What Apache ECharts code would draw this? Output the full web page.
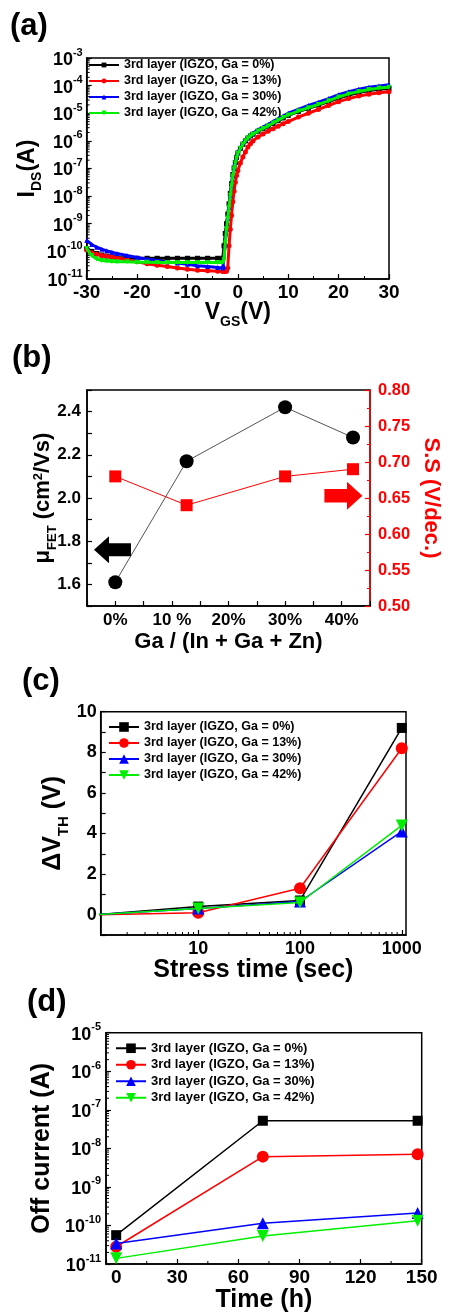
<!DOCTYPE html>
<html><head><meta charset="utf-8">
<script src="https://cdn.jsdelivr.net/npm/echarts@6/dist/echarts.min.js"></script>
<style>html,body{margin:0;padding:0;background:#fff}#c{width:450px;height:1314px}</style>
</head><body><div id="c"></div>
<script>
const FONT = 'Liberation Sans, Arial, Helvetica, sans-serif';

// ---------- (a) transfer curves: V_GS (V) and log10(I_DS / A) ----------
const vgs = [-30,-29,-28,-27,-26,-25,-24,-22,-20,-18,-16,-14,-12,-10,-8,-6,-4,-3,-2.75,-2.5,-2.25,-2,-1.75,-1.5,-1.25,-1,-0.75,-0.5,-0.25,0,0.5,1,1.5,2,2.5,3,4,5,6,7,8,9,10,12,14,16,18,20,22,24,26,28,30];
const logIds_Ga0 = [-9.9,-10.0,-10.08,-10.13,-10.17,-10.2,-10.22,-10.24,-10.25,-10.25,-10.25,-10.25,-10.25,-10.25,-10.25,-10.25,-10.25,-10.25,-9.8,-9.35,-9.0,-8.65,-8.28,-7.9,-7.55,-7.22,-6.98,-6.78,-6.6,-6.44,-6.27,-6.12,-6.0,-5.9,-5.82,-5.76,-5.65,-5.56,-5.47,-5.37,-5.27,-5.17,-5.08,-4.94,-4.82,-4.7,-4.58,-4.45,-4.34,-4.25,-4.18,-4.13,-4.1];
const logIds_Ga13 = [-9.95,-10.05,-10.1,-10.15,-10.18,-10.2,-10.23,-10.3,-10.38,-10.45,-10.5,-10.55,-10.6,-10.65,-10.68,-10.7,-10.72,-10.73,-10.73,-10.73,-10.72,-10.6,-9.8,-9.2,-8.7,-8.2,-7.82,-7.5,-7.25,-7.08,-6.8,-6.58,-6.4,-6.22,-6.1,-6.0,-5.86,-5.75,-5.65,-5.56,-5.47,-5.38,-5.3,-5.14,-5.0,-4.86,-4.72,-4.58,-4.47,-4.38,-4.31,-4.26,-4.22];
const logIds_Ga30 = [-9.6,-9.75,-9.85,-9.92,-9.98,-10.03,-10.08,-10.15,-10.22,-10.28,-10.33,-10.38,-10.42,-10.47,-10.52,-10.55,-10.58,-10.6,-10.55,-9.75,-9.2,-8.8,-8.4,-7.98,-7.62,-7.27,-7.0,-6.78,-6.6,-6.43,-6.25,-6.09,-5.97,-5.87,-5.79,-5.72,-5.6,-5.5,-5.41,-5.3,-5.2,-5.1,-5.0,-4.86,-4.72,-4.6,-4.47,-4.33,-4.22,-4.13,-4.06,-4.01,-3.97];
const logIds_Ga42 = [-9.9,-10.15,-10.28,-10.33,-10.35,-10.37,-10.38,-10.38,-10.39,-10.39,-10.4,-10.4,-10.4,-10.4,-10.4,-10.4,-10.4,-10.4,-10.3,-9.7,-9.2,-8.8,-8.4,-7.98,-7.62,-7.28,-7.02,-6.8,-6.62,-6.46,-6.28,-6.12,-6.0,-5.9,-5.82,-5.76,-5.64,-5.55,-5.46,-5.35,-5.25,-5.15,-5.06,-4.92,-4.8,-4.68,-4.55,-4.41,-4.3,-4.21,-4.14,-4.09,-4.06];

// ---------- (b) mobility and subthreshold swing ----------
const gaRatio = [0, 12.6, 30, 42];
const mobility = [1.61, 2.17, 2.42, 2.28];
const subSwing = [0.68, 0.64, 0.68, 0.69];

// ---------- (c) threshold voltage shift ----------
const stressTime = [1, 10, 100, 1000];
const dVth_Ga0 = [0, 0.4, 0.7, 9.2];
const dVth_Ga13 = [0, 0.1, 1.3, 8.2];
const dVth_Ga30 = [0, 0.3, 0.65, 4.1];
const dVth_Ga42 = [0, 0.3, 0.6, 4.4];

// ---------- (d) off current ----------
const timeH = [0, 72, 148];
const ioff_Ga0 = [5.6e-11, 5.2e-8, 5.2e-8];
const ioff_Ga13 = [2.8e-11, 6.1e-9, 7.0e-9];
const ioff_Ga30 = [3.4e-11, 1.14e-10, 2.1e-10];
const ioff_Ga42 = [1.4e-11, 5.3e-11, 1.33e-10];

const seriesNames = ['3rd layer (IGZO, Ga = 0%)', '3rd layer (IGZO, Ga = 13%)', '3rd layer (IGZO, Ga = 30%)', '3rd layer (IGZO, Ga = 42%)'];
const colors = ['#000000', '#ff0000', '#0000ff', '#00ee00'];
const symbols = ['rect', 'circle', 'triangle', 'path://M0,0L10,0L5,8.66Z'];

// minor tick helpers (positions of minor ticks only)
const logMult = [2,3,4,5,6,7,8,9];
function logMinor(e0, e1) { const out = []; for (let e = e0; e < e1; e++) logMult.forEach(m => out.push(m * Math.pow(10, e))); return out; }

const bold = {fontFamily: FONT, fontWeight: 'bold', color: '#000'};
const supRich = {
  b: {fontFamily: FONT, fontWeight: 'bold', fontSize: 18, lineHeight: 22, verticalAlign: 'bottom', color: '#000'},
  s: {fontFamily: FONT, fontWeight: 'bold', fontSize: 11, lineHeight: 11, verticalAlign: 'top', color: '#000'}
};
function expLabel(v) {
  const l = Math.log10(v), e = Math.round(l);
  if (Math.abs(l - e) > 1e-6) return '';
  return '{b|10}{s|' + e + '}';
}
function nameRich(size, color) {
  return {
    n: {fontFamily: FONT, fontWeight: 'bold', fontSize: size, lineHeight: size + 4, verticalAlign: 'top', color: color},
    s: {fontFamily: FONT, fontWeight: 'bold', fontSize: Math.round(size * 0.6), lineHeight: 10, verticalAlign: 'top', padding: [Math.round(size * 0.62), 0, 0, 0], color: color},
    p: {fontFamily: FONT, fontWeight: 'bold', fontSize: Math.round(size * 0.6), lineHeight: 10, verticalAlign: 'top', padding: [0, 0, 0, 0], color: color}
  };
}
const axLine = (c) => ({show: true, onZero: false, lineStyle: {color: c || '#000', width: 1.5}});
const axTick = (c) => ({show: true, inside: true, length: 5, lineStyle: {color: c || '#000', width: 1.2}});

function minorSeries(xIdx, yIdx, dir, anchor, values, len) {
  return {
    type: 'custom', xAxisIndex: xIdx, yAxisIndex: yIdx, silent: true, clip: false, z: 5,
    data: values.map(v => dir === 'y' ? [anchor, v] : [v, anchor]),
    renderItem: function (params, api) {
      const p = api.coord([api.value(0), api.value(1)]);
      const shape = dir === 'y' ? {x1: p[0], y1: p[1], x2: p[0] + len, y2: p[1]} : {x1: p[0], y1: p[1], x2: p[0], y2: p[1] - len};
      return {type: 'line', shape: shape, style: {stroke: '#000', lineWidth: 1}};
    }
  };
}

const series = [];
// (a)
[logIds_Ga0, logIds_Ga13, logIds_Ga30, logIds_Ga42].forEach((arr, i) => {
  series.push({
    type: 'line', name: seriesNames[i], xAxisIndex: 0, yAxisIndex: 0,
    data: vgs.map((v, k) => [v, Math.pow(10, arr[k])]),
    symbol: symbols[i], symbolSize: 5, showAllSymbol: true,
    itemStyle: {color: colors[i]}, lineStyle: {color: colors[i], width: 3}, z: 3 + i
  });
});
series.push(minorSeries(0, 0, 'y', -30, logMinor(-11, -3), 3));
// (b)
series.push({
  type: 'line', name: 'mobility', xAxisIndex: 1, yAxisIndex: 1,
  data: gaRatio.map((g, k) => [g, mobility[k]]),
  symbol: 'circle', symbolSize: 14, itemStyle: {color: '#000'}, lineStyle: {color: '#555', width: 1}, z: 4,
  markPoint: {
    silent: true, label: {show: false},
    data: [{coord: [-0.5, 1.76], symbol: 'path://M0,13.5L15,0L15,7L37,7L37,20L15,20L15,27Z', symbolSize: [37, 27], symbolKeepAspect: false, itemStyle: {color: '#000'}}]
  }
});
series.push({
  type: 'line', name: 'ss', xAxisIndex: 1, yAxisIndex: 2,
  data: gaRatio.map((g, k) => [g, subSwing[k]]),
  symbol: 'rect', symbolSize: 12, itemStyle: {color: '#ff0000'}, lineStyle: {color: '#ff0000', width: 1}, z: 4,
  markPoint: {
    silent: true, label: {show: false},
    data: [{coord: [40.3, 0.653], symbol: 'path://M37,13.5L22,0L22,7L0,7L0,20L22,20L22,27Z', symbolSize: [38, 28], symbolKeepAspect: false, itemStyle: {color: '#ff0000'}}]
  }
});
// (c)
const symSizeC = [10, 12, 12, 12];
[dVth_Ga0, dVth_Ga13, dVth_Ga30, dVth_Ga42].forEach((arr, i) => {
  series.push({
    type: 'line', name: seriesNames[i] + ' ', xAxisIndex: 2, yAxisIndex: 3,
    data: stressTime.map((t, k) => [t, arr[k]]),
    symbol: symbols[i], symbolSize: symSizeC[i], clip: true,
    itemStyle: {color: colors[i]}, lineStyle: {color: colors[i], width: 1.5}, z: 3 + i
  });
});
series.push(minorSeries(2, 3, 'x', -1, logMinor(0, 3).filter(v => v > 1.1), 3));
// (d)
[ioff_Ga0, ioff_Ga13, ioff_Ga30, ioff_Ga42].forEach((arr, i) => {
  series.push({
    type: 'line', name: seriesNames[i] + '  ', xAxisIndex: 3, yAxisIndex: 4,
    data: timeH.map((t, k) => [t, arr[k]]),
    symbol: symbols[i], symbolSize: symSizeC[i],
    itemStyle: {color: colors[i]}, lineStyle: {color: colors[i], width: 1.5}, z: 3 + i
  });
});
series.push(minorSeries(3, 4, 'y', -5, logMinor(-11, -5), 3));
series.push(minorSeries(3, 4, 'x', 1e-11, [15, 45, 75, 105, 135], 3));

function legendFor(suffix, left, top, itemH, lh, fs) {
  return {
    orient: 'vertical', left: left, top: top, padding: 0, itemGap: 0,
    itemWidth: 30, itemHeight: itemH, selectedMode: false,
    textStyle: {fontFamily: FONT, fontWeight: 'bold', fontSize: fs, lineHeight: lh, color: '#000'},
    data: seriesNames.map(n => n + suffix)
  };
}

const option = {
  animation: false,
  backgroundColor: '#fff',
  graphic: [
    {type: 'text', style: {text: '(a)', x: 10, y: 26, verticalAlign: 'middle', font: 'bold 31px ' + FONT, fill: '#000'}},
    {type: 'text', style: {text: '(b)', x: 12, y: 358, verticalAlign: 'middle', font: 'bold 31px ' + FONT, fill: '#000'}},
    {type: 'text', style: {text: '(c)', x: 22, y: 681, verticalAlign: 'middle', font: 'bold 31px ' + FONT, fill: '#000'}},
    {type: 'text', style: {text: '(d)', x: 27, y: 1002, verticalAlign: 'middle', font: 'bold 31px ' + FONT, fill: '#000'}}
  ],
  legend: [
    legendFor('', 88, 57, 6, 16, 12.5),
    legendFor(' ', 108, 719, 12, 16, 12.5),
    legendFor('  ', 115, 1040, 12, 16.5, 13)
  ],
  grid: [
    {left: 86.7, top: 58, width: 302.3, height: 221, show: true, borderColor: '#000', borderWidth: 1.5},
    {left: 87, top: 390, width: 293, height: 216, show: true, borderColor: '#000', borderWidth: 1.5},
    {left: 100.7, top: 711.7, width: 305.3, height: 223.3, show: true, borderColor: '#000', borderWidth: 1.5},
    {left: 106, top: 1032.7, width: 315.7, height: 231.3, show: true, borderColor: '#000', borderWidth: 1.5}
  ],
  xAxis: [
    {gridIndex: 0, type: 'value', min: -30, max: 30, interval: 10,
      axisLine: axLine(), axisTick: axTick(), splitLine: {show: false},
      minorTick: {show: true, splitNumber: 2, length: 3, lineStyle: {color: '#000', width: 1}},
      axisLabel: Object.assign({fontSize: 19, margin: 4}, bold),
      name: '{n|V}{s|GS}{n|(V)}', nameLocation: 'middle', nameGap: 22, nameMoveOverlap: false,
      nameTextStyle: {rich: nameRich(23, '#000')}},
    {gridIndex: 1, type: 'value', min: -5, max: 45, interval: 5,
      axisLine: axLine(), axisTick: axTick(), splitLine: {show: false},
      axisLabel: Object.assign({fontSize: 17, margin: 6, formatter: v => (v >= 0 && v <= 40 && v % 10 === 0) ? (v === 10 ? '10 %' : v + '%') : ''}, bold),
      name: 'Ga / (In + Ga + Zn)', nameLocation: 'middle', nameGap: 25, nameMoveOverlap: false,
      nameTextStyle: Object.assign({fontSize: 22}, bold)},
    {gridIndex: 2, type: 'log', logBase: 10, min: 1.1, max: 1100,
      axisLine: axLine(), axisTick: axTick(), splitLine: {show: false},
      axisLabel: Object.assign({fontSize: 18, margin: 5, showMinLabel: false, showMaxLabel: false,
        formatter: v => { const l = Math.log10(v); return Math.abs(l - Math.round(l)) < 1e-6 ? String(Math.round(v)) : ''; }}, bold),
      name: 'Stress time (sec)', nameLocation: 'middle', nameGap: 23, nameMoveOverlap: false,
      nameTextStyle: Object.assign({fontSize: 25}, bold)},
    {gridIndex: 3, type: 'value', min: -5, max: 150, splitNumber: 5,
      axisLine: axLine(), axisTick: axTick(), splitLine: {show: false},
      axisLabel: Object.assign({fontSize: 19, margin: 4, formatter: v => (v >= 0 && v % 30 === 0) ? String(v) : ''}, bold),
      name: 'Time (h)', nameLocation: 'middle', nameGap: 24, nameMoveOverlap: false,
      nameTextStyle: Object.assign({fontSize: 25}, bold)}
  ],
  yAxis: [
    {gridIndex: 0, type: 'log', logBase: 10, min: 1e-11, max: 1e-3, splitNumber: 8,
      axisLine: axLine(), axisTick: axTick(), splitLine: {show: false},
      axisLabel: {margin: 4, formatter: expLabel, rich: supRich},
      name: '{n|I}{s|DS}{n|(A)}', nameLocation: 'middle', nameGap: 44, nameMoveOverlap: false,
      nameTextStyle: {rich: nameRich(23, '#000')}},
    {gridIndex: 1, type: 'value', min: 1.5, max: 2.5, interval: 0.1,
      axisLine: axLine(), axisTick: axTick(), splitLine: {show: false},
      axisLabel: Object.assign({fontSize: 17, margin: 6, formatter: v => { const r = Math.round(v * 10); return r % 2 === 0 ? (r / 10).toFixed(1) : ''; }}, bold),
      name: '{n|μ}{s|FET}{n| (cm}{p|2}{n|/Vs)}', nameLocation: 'middle', nameGap: 29, nameMoveOverlap: false,
      nameTextStyle: {rich: nameRich(22, '#000')}},
    {gridIndex: 1, type: 'value', position: 'right', min: 0.5, max: 0.8, interval: 0.05,
      axisLine: axLine('#ff0000'), axisTick: axTick('#ff0000'), splitLine: {show: false},
      minorTick: {show: true, splitNumber: 2, length: 3, lineStyle: {color: '#ff0000', width: 1}},
      axisLabel: {fontFamily: FONT, fontWeight: 'bold', fontSize: 16.5, color: '#ff0000', margin: 8, formatter: v => v.toFixed(2)},
      name: 'S.S (V/dec.)', nameLocation: 'middle', nameGap: 50, nameRotate: -90, nameMoveOverlap: false,
      nameTextStyle: {fontFamily: FONT, fontWeight: 'bold', fontSize: 22, color: '#ff0000'}},
    {gridIndex: 2, type: 'value', min: -1, max: 10, interval: 1,
      axisLine: axLine(), axisTick: axTick(), splitLine: {show: false},
      axisLabel: Object.assign({fontSize: 18, margin: 4, formatter: v => (v >= 0 && Math.round(v) % 2 === 0) ? String(v) : ''}, bold),
      name: '{n|ΔV}{s|TH}{n| (V)}', nameLocation: 'middle', nameGap: 31, nameMoveOverlap: false,
      nameTextStyle: {rich: nameRich(25, '#000')}},
    {gridIndex: 3, type: 'log', logBase: 10, min: 1e-11, max: 1e-5, splitNumber: 6,
      axisLine: axLine(), axisTick: axTick(), splitLine: {show: false},
      axisLabel: {margin: 5, formatter: expLabel, rich: supRich},
      name: 'Off current (A)', nameLocation: 'middle', nameGap: 51, nameMoveOverlap: false,
      nameTextStyle: Object.assign({fontSize: 25}, bold)}
  ],
  series: series
};

const chart = echarts.init(document.getElementById('c'), null, {renderer: 'canvas'});
chart.setOption(option);
</script></body></html>
